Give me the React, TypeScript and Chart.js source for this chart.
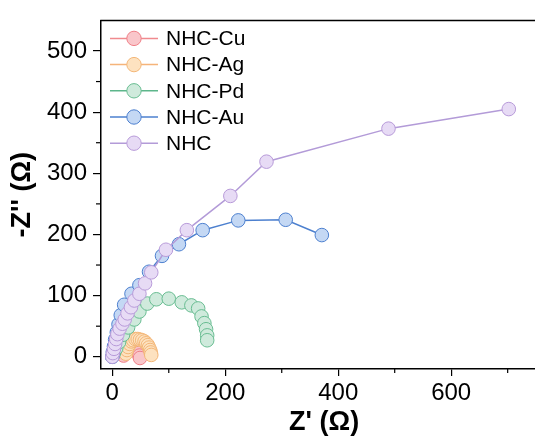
import React, { useEffect, useRef } from "react";
import { Chart, registerables } from "chart.js";

Chart.register(...registerables);

const SERIES_NAMES = ["NHC-Cu", "NHC-Ag", "NHC-Pd", "NHC-Au", "NHC"];

const CU_X = [20, 23, 26, 29, 32, 35, 38, 41, 44, 46, 48, 49];
const CU_Y = [2, 7, 11, 14, 16, 16, 15, 13, 10, 6, 2, -2];

const AG_X = [24, 26, 28, 31, 34, 37, 41, 45, 49, 53, 57, 60, 63, 65, 67, 68, 69];
const AG_Y = [5, 11, 16, 21, 25, 27, 29, 29, 28, 27, 25, 22, 19, 15, 11, 7, 3];

const PD_X = [0, 3, 7, 12, 19, 28, 39, 48, 62, 78, 100, 123, 140, 152, 158, 163, 166, 168, 168];
const PD_Y = [0, 6, 14, 24, 36, 48, 61, 74, 87, 94, 95, 89, 84, 79, 66, 55, 45, 35, 27];

const AU_X = [0, 1, 3, 5, 8, 11, 15, 21, 34, 48, 65, 88, 118, 160, 223, 307, 371];
const AU_Y = [0, 8, 17, 28, 40, 53, 68, 85, 103, 117, 139, 165, 184, 207, 223, 224, 199];

const NHC_X = [0, 1, 3, 5, 7, 9, 13, 18, 22, 27, 33, 39, 48, 58, 69, 95, 132, 209, 273, 489, 702];
const NHC_Y = [0, 6, 13, 21, 29, 37, 46, 54, 61, 71, 81, 92, 103, 120, 138, 175, 207, 263, 319, 373, 405];

const X_TICKS = [0, 200, 400, 600];
const X_MINOR = [100, 300, 500, 700];
const Y_TICKS = [0, 100, 200, 300, 400, 500];
const Y_MINOR = [50, 150, 250, 350, 450];

const LINE_COLORS = ["#f08a8e", "#f5b47a", "#5db68b", "#4d80cf", "#b39bd8"];
const FILL_COLORS = ["#f9c6ca", "#fde2c0", "#cfeadc", "#c4d8f4", "#e7dbf5"];
const EDGE_COLORS = ["#ef7f87", "#f3b677", "#69bd92", "#4d80cf", "#b89bd9"];

const FONT = "Arial, 'Liberation Sans', sans-serif";

const decorPlugin = {
  id: "decor",
  afterDraw(chart: any) {
    const ctx = chart.ctx;
    const { left, right, top, bottom } = chart.chartArea;
    const xs = chart.scales.x;
    const ys = chart.scales.y;
    ctx.save();
    ctx.strokeStyle = "#000";
    ctx.lineWidth = 1.5;
    ctx.beginPath();
    ctx.moveTo(left - 0.75, top);
    ctx.lineTo(right + 2, top);
    ctx.stroke();
    ctx.lineWidth = 1.2;
    X_MINOR.forEach((v) => {
      const p = xs.getPixelForValue(v);
      ctx.beginPath();
      ctx.moveTo(p, bottom);
      ctx.lineTo(p, bottom + 4);
      ctx.stroke();
    });
    Y_MINOR.forEach((v) => {
      const p = ys.getPixelForValue(v);
      ctx.beginPath();
      ctx.moveTo(left, p);
      ctx.lineTo(left - 5, p);
      ctx.stroke();
    });
    // legend
    chart.data.datasets.forEach((ds: any, i: number) => {
      const cy = top + 18 + i * 26.2;
      const lx = left + 9;
      ctx.strokeStyle = ds.borderColor;
      ctx.lineWidth = 1.5;
      ctx.beginPath();
      ctx.moveTo(lx, cy);
      ctx.lineTo(lx + 48, cy);
      ctx.stroke();
      ctx.beginPath();
      ctx.arc(lx + 24, cy, 7.2, 0, Math.PI * 2);
      ctx.fillStyle = ds.pointBackgroundColor;
      ctx.fill();
      ctx.strokeStyle = ds.pointBorderColor;
      ctx.lineWidth = 1;
      ctx.stroke();
      ctx.fillStyle = "#000";
      ctx.font = `21px ${FONT}`;
      ctx.textBaseline = "middle";
      ctx.textAlign = "left";
      ctx.fillText(ds.label, lx + 56, cy + 1);
    });
    ctx.restore();
  },
};

function zip(xs: number[], ys: number[]) {
  return xs.map((x, i) => ({ x, y: ys[i] }));
}

export default function App() {
  const ref = useRef<HTMLCanvasElement | null>(null);

  useEffect(() => {
    if (!ref.current) return;
    const seriesX = [CU_X, AG_X, PD_X, AU_X, NHC_X];
    const seriesY = [CU_Y, AG_Y, PD_Y, AU_Y, NHC_Y];
    const datasets = SERIES_NAMES.map((name, i) => ({
      label: name,
      data: zip(seriesX[i], seriesY[i]),
      showLine: true,
      borderColor: LINE_COLORS[i],
      borderWidth: 1.5,
      backgroundColor: FILL_COLORS[i],
      pointBackgroundColor: FILL_COLORS[i],
      pointBorderColor: EDGE_COLORS[i],
      pointBorderWidth: 1,
      pointRadius: 6.8,
      pointHoverRadius: 6.8,
      order: SERIES_NAMES.length - i,
    }));

    const chart = new Chart(ref.current, {
      type: "scatter",
      data: { datasets },
      plugins: [decorPlugin],
      options: {
        responsive: false,
        animation: false,
        events: [],
        layout: { padding: { top: 14, right: 2, left: 0, bottom: 0 } },
        plugins: {
          legend: { display: false },
          tooltip: { enabled: false },
        },
        scales: {
          x: {
            type: "linear",
            min: -20,
            max: 770,
            afterBuildTicks: (s: any) => {
              s.ticks = X_TICKS.map((v) => ({ value: v }));
            },
            afterFit: (s: any) => {
              s.height = 71;
            },
            grid: {
              display: true,
              drawOnChartArea: false,
              drawTicks: true,
              tickLength: 7,
              color: "#000",
              lineWidth: 1.2,
            },
            border: { display: true, color: "#000", width: 1.5 },
            ticks: {
              color: "#000",
              font: { family: FONT, size: 24 },
              padding: 3,
              maxRotation: 0,
              autoSkip: false,
            },
            title: {
              display: true,
              text: "Z' (Ω)",
              color: "#000",
              font: { family: FONT, size: 27, weight: "bold" },
              padding: { top: 0, bottom: 1 },
            },
          },
          y: {
            type: "linear",
            min: -20,
            max: 550,
            afterBuildTicks: (s: any) => {
              s.ticks = Y_TICKS.map((v) => ({ value: v }));
            },
            afterFit: (s: any) => {
              s.width = 101;
            },
            grid: {
              display: true,
              drawOnChartArea: false,
              drawTicks: true,
              tickLength: 8,
              color: "#000",
              lineWidth: 1.2,
            },
            border: { display: true, color: "#000", width: 1.5 },
            ticks: {
              color: "#000",
              font: { family: FONT, size: 24 },
              padding: 6,
              autoSkip: false,
            },
            title: {
              display: true,
              text: "-Z'' (Ω)",
              color: "#000",
              font: { family: FONT, size: 27, weight: "bold" },
              padding: { top: 6, bottom: 0 },
            },
          },
        },
      } as any,
    });
    return () => chart.destroy();
  }, []);

  return (
    <div
      style={{
        position: "fixed",
        left: 0,
        top: 0,
        width: 535,
        height: 440,
        overflow: "hidden",
        background: "#fff",
      }}
    >
      <canvas
        ref={ref}
        width={555}
        height={440}
        style={{ display: "block", width: 555, height: 440 }}
      />
    </div>
  );
}
